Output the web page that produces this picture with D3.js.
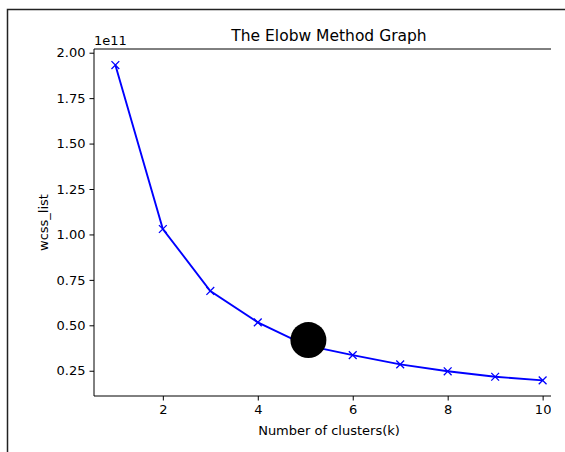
<!DOCTYPE html>
<html>
<head>
<meta charset="utf-8">
<script src="https://cdn.jsdelivr.net/npm/d3@7"></script>
<style>
  body { margin: 0; background: #fff; }
  svg { display: block; font-family: "DejaVu Sans", sans-serif; }
</style>
</head>
<body>
<svg id="chart" width="565" height="452"></svg>
<script>
// number of clusters and the wcss for each
var kValues = [1, 2, 3, 4, 5, 6, 7, 8, 9, 10];
var wcssList = [1.932e11, 1.030e11, 0.689e11, 0.516e11, 0.391e11, 0.336e11, 0.285e11, 0.247e11, 0.217e11, 0.197e11];
var yTicks = [0.25e11, 0.5e11, 0.75e11, 1.0e11, 1.25e11, 1.5e11, 1.75e11, 2.0e11];
var xTicks = [2, 4, 6, 8, 10];
// the black dot drawn over the elbow
var elbowPoint = {k: 5.066, wcss: 0.419e11};

function elbowChart(){
  var svg = d3.select("#chart")
    , pLeft = 94, pTop = 49, pBottom = 396, pRight = 564, cropRight = 551
    , x = d3.scaleLinear().domain([0.55, 10.45]).range([pLeft, pRight])
    , y = d3.scaleLinear().domain([0.111e11, 2.0204e11]).range([pBottom, pTop]);

  // outer frame of the screenshot
  svg.append("path")
    .attr("d", "M7.5,452 V9.5 H565")
    .attr("fill", "none").attr("stroke", "#222").attr("stroke-width", 1.5);

  svg.append("clipPath").attr("id", "crop")
    .append("rect").attr("x", 0).attr("y", 0).attr("width", cropRight).attr("height", 452);

  var g = svg.append("g").attr("clip-path", "url(#crop)");

  // y axis
  var yAxis = g.append("g")
    .attr("transform", "translate(" + pLeft + ",0)")
    .call(d3.axisLeft(y).tickValues(yTicks).tickSize(4.5).tickPadding(4)
      .tickFormat(function(d) { return d3.format(".2f")(d / 1e11); }));
  // x axis
  var xAxis = g.append("g")
    .attr("transform", "translate(0," + pBottom + ")")
    .call(d3.axisBottom(x).tickValues(xTicks).tickSize(4.5).tickPadding(4));

  [yAxis, xAxis].forEach(function(a) {
    a.select(".domain").remove();
    a.selectAll("line").attr("stroke", "#000").attr("stroke-width", 1);
    a.selectAll("text").attr("fill", "#000").attr("font-size", 13)
      .attr("font-family", "DejaVu Sans");
  });

  // spines: left, bottom, top (right edge is cropped off)
  g.append("path")
    .attr("d", "M" + pLeft + "," + pTop + " V" + pBottom + " H" + pRight + " M" + pLeft + "," + pTop + " H" + pRight)
    .attr("fill", "none").attr("stroke", "#000").attr("stroke-width", 1);

  var line = d3.line()
    .x(function(d, i) { return x(kValues[i]); })
    .y(function(d) { return y(d); });

  g.append("path")
    .datum(wcssList)
    .attr("d", line)
    .attr("fill", "none").attr("stroke", "#0000ff").attr("stroke-width", 1.9);

  var m = 3.9;
  g.selectAll(".mark")
    .data(wcssList)
    .enter().append("path")
      .classed("mark", true)
      .attr("d", function(d, i) {
        var cx = x(kValues[i]), cy = y(d);
        return "M" + (cx - m) + "," + (cy - m) + "L" + (cx + m) + "," + (cy + m)
          + "M" + (cx - m) + "," + (cy + m) + "L" + (cx + m) + "," + (cy - m);
      })
      .attr("stroke", "#0000ff").attr("stroke-width", 1.3);

  g.append("circle")
    .attr("cx", x(elbowPoint.k)).attr("cy", y(elbowPoint.wcss))
    .attr("r", 18).attr("fill", "#000");

  // texts
  svg.append("text")
    .attr("x", (pLeft + pRight) / 2).attr("y", 41)
    .attr("text-anchor", "middle").attr("font-size", 15.5)
    .text("The Elobw Method Graph");

  svg.append("text")
    .attr("x", pLeft).attr("y", 45)
    .attr("font-size", 13)
    .text("1e11");

  svg.append("text")
    .attr("x", (pLeft + pRight) / 2).attr("y", 435)
    .attr("text-anchor", "middle").attr("font-size", 13)
    .text("Number of clusters(k)");

  svg.append("text")
    .attr("transform", "translate(48," + (pTop + pBottom) / 2 + ") rotate(-90)")
    .attr("text-anchor", "middle").attr("font-size", 13)
    .text("wcss_list");
}
elbowChart();
</script>
</body>
</html>
